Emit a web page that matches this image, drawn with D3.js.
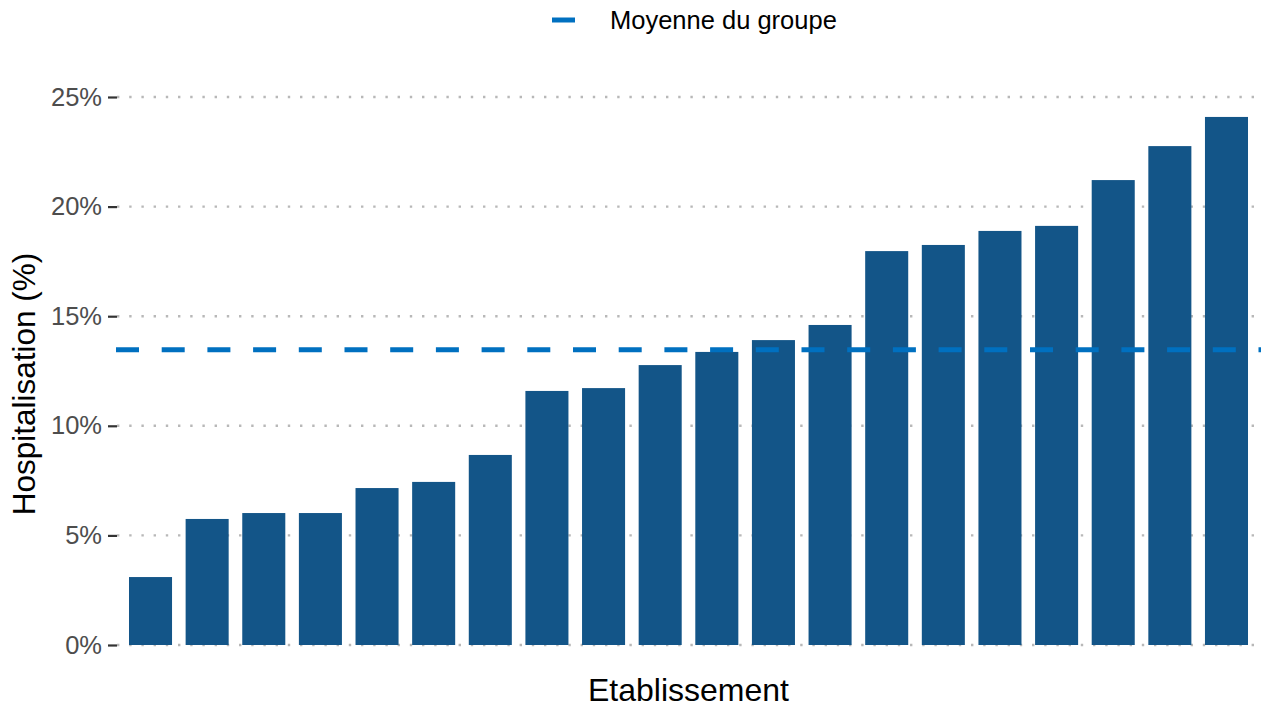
<!DOCTYPE html>
<html>
<head>
<meta charset="utf-8">
<script src="https://cdn.jsdelivr.net/npm/d3@7"></script>
<style>
  body { margin: 0; background: #fff; }
  svg { display: block; font-family: "Liberation Sans", Arial, sans-serif; }
</style>
</head>
<body>
<div id="chart"></div>
<script>
// data
const etablissements = ["E01","E02","E03","E04","E05","E06","E07","E08","E09","E10",
                        "E11","E12","E13","E14","E15","E16","E17","E18","E19","E20"];
const hospitalisation = [3.10, 5.75, 6.02, 6.02, 7.16, 7.44, 8.67, 11.59, 11.72, 12.77,
                         13.37, 13.91, 14.60, 17.97, 18.25, 18.89, 19.12, 21.21, 22.76, 24.09];
const moyenneGroupe = 13.47;
const yTicks = [0, 5, 10, 15, 20, 25];

const width = 1261, height = 708;
const panelLeft = 116, panelRight = 1261, panelTop = 97, panelBottom = 645;

const svg = d3.select("#chart").append("svg")
    .attr("width", width)
    .attr("height", height);

const x = d3.scaleBand()
    .domain(etablissements)
    .range([panelLeft, panelRight])
    .paddingInner(0.24)
    .paddingOuter(0.2295);

const y = d3.scaleLinear()
    .domain([0, 25])
    .range([panelBottom, panelTop]);

// dotted grid
svg.append("g")
    .selectAll("line")
    .data(yTicks)
    .enter()
    .append("line")
    .attr("x1", panelLeft + 1)
    .attr("x2", panelRight)
    .attr("y1", d => y(d))
    .attr("y2", d => y(d))
    .attr("stroke", "#b8b8b8")
    .attr("stroke-width", 2.4)
    .attr("stroke-dasharray", "2.4,9.8");

// y axis: ticks + labels, no domain line
const yAxis = svg.append("g")
    .attr("transform", `translate(${panelLeft + 1},0)`)
    .call(d3.axisLeft(y).tickValues(yTicks).tickSize(9).tickPadding(6).tickFormat(d => d + "%"));
yAxis.select(".domain").remove();
yAxis.selectAll(".tick line").attr("stroke", "#333").attr("stroke-width", 2.2);
yAxis.selectAll(".tick text")
    .attr("fill", "#4d4d4d")
    .style("font-size", "25.5px")
    .style("font-family", "'Liberation Sans', Arial, sans-serif");

// bars
svg.append("g")
    .selectAll("rect")
    .data(hospitalisation)
    .enter()
    .append("rect")
    .attr("x", (d, i) => x(etablissements[i]))
    .attr("y", d => y(d))
    .attr("width", x.bandwidth())
    .attr("height", d => y(0) - y(d))
    .attr("fill", "#135588");

// group mean
svg.append("line")
    .attr("x1", panelLeft)
    .attr("x2", panelRight)
    .attr("y1", y(moyenneGroupe))
    .attr("y2", y(moyenneGroupe))
    .attr("stroke", "#0070c0")
    .attr("stroke-width", 5)
    .attr("stroke-dasharray", "23,22.7");

// legend
svg.append("line")
    .attr("x1", 552).attr("x2", 575)
    .attr("y1", 20).attr("y2", 20)
    .attr("stroke", "#0070c0")
    .attr("stroke-width", 5);
svg.append("text")
    .attr("x", 610)
    .attr("y", 29)
    .style("font-size", "25.5px")
    .attr("fill", "#000")
    .text("Moyenne du groupe");

// axis titles
svg.append("text")
    .attr("x", (panelLeft + panelRight) / 2)
    .attr("y", 701)
    .attr("text-anchor", "middle")
    .style("font-size", "32px")
    .attr("fill", "#000")
    .text("Etablissement");

svg.append("text")
    .attr("transform", "translate(35,384) rotate(-90)")
    .attr("text-anchor", "middle")
    .style("font-size", "31.5px")
    .attr("fill", "#000")
    .text("Hospitalisation (%)");
</script>
</body>
</html>
